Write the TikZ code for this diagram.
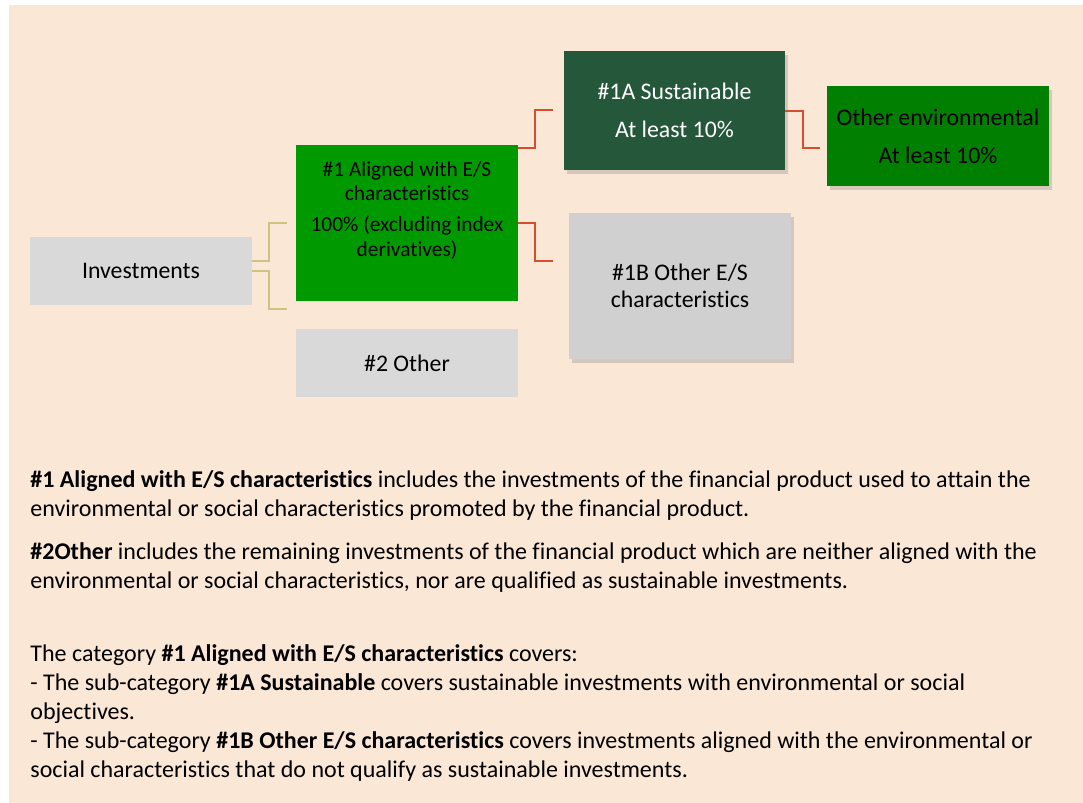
\documentclass[tikz,border=0pt]{standalone}
\usepackage{fontspec}
\setmainfont{Carlito}[Ligatures = NoCommon]
\usetikzlibrary{shadows}

\definecolor{bgbeige}{HTML}{FAE7D6}
\definecolor{boxgray}{HTML}{D9D9D9}
\definecolor{boxgrayB}{HTML}{CFD0CF}
\definecolor{esgreen}{HTML}{009A00}
\definecolor{sustgreen}{HTML}{25573A}
\definecolor{envgreen}{HTML}{007F00}
\definecolor{oliveline}{HTML}{CFC383}
\definecolor{redline}{HTML}{D2502D}

\tikzset{
	box/.style = {rectangle, inner sep = 0pt, minimum width = 111pt, align = center, font = \fontsize{11.9}{14.5}\selectfont},
	shadowed/.style = {drop shadow = {opacity = 0.3, shadow xshift = 1.5pt, shadow yshift = -2pt}},
	link/.style = {line width = 1pt},
	textpara/.style = {anchor = north west, inner sep = 0pt, align = left, font = \fontsize{12}{14.5}\selectfont},
}

\begin{document}
\begin{tikzpicture}[x = 0.5pt, y = -0.5pt]
	
	\useasboundingbox (0, 0) rectangle (1083, 803);
	\fill[bgbeige] (9, 5) rectangle (1083, 803);
	
	\node[box, fill = boxgray, minimum height = 34pt] (inv) at (141, 271) {Investments};
	
	\node[box, fill = esgreen, minimum height = 78pt, font = \fontsize{10.7}{12.3}\selectfont] (one) at (407, 223) {\#1 Aligned with E/S\\characteristics\\[3pt]100\% (excluding index\\derivatives)\\[2pt]\mbox{}};
	
	\node[box, fill = boxgray, minimum height = 34pt] (two) at (407, 363) {\#2 Other};
	
	\node[box, shadowed, fill = sustgreen, text = white, minimum width = 110.5pt, minimum height = 59.5pt] (oneA) at (674.5, 110.5) {\#1A Sustainable\\[4.5pt]At least 10\%};
	
	\node[box, shadowed, fill = boxgrayB, minimum height = 73pt, font = \fontsize{11.9}{13.5}\selectfont] (oneB) at (680, 286) {\#1B Other E/S\\characteristics};
	
	\node[box, shadowed, fill = envgreen, minimum height = 50pt] (env) at (938, 136) {Other environmental\\[4.5pt]At least 10\%};
	
	\coordinate (invup) at (287, 223);
	\coordinate (invdown) at (287, 309);
	\coordinate (oneAin) at (553, 110);
	\coordinate (oneBin) at (553, 261);
	\coordinate (envin) at (820, 148);
	
	\draw[link, oliveline] ([yshift = 5pt]inv.east) -- ++(17, 0) |- (invup);
	\draw[link, oliveline] (inv.east) -- ++(17, 0) |- (invdown);
	
	\draw[link, redline] ([yshift = -1.5pt]one.north east) -- ++(17, 0) |- (oneAin);
	\draw[link, redline] (one.east) -- ++(17, 0) |- (oneBin);
	\draw[link, redline] (oneA.east) -- ++(18, 0) |- (envin);
	
%	text below the chart
	\node[textpara] (parone) at (30, 470) {\textbf{\#1 Aligned with E/S characteristics} includes the investments of the financial product used to attain the\\environmental or social characteristics promoted by the financial product.};
	
	\node[textpara] (partwo) at (30, 542) {\textbf{\#2Other} includes the remaining investments of the financial product which are neither aligned with the\\environmental or social characteristics, nor are qualified as sustainable investments.};
	
	\node[textpara] (parthree) at (30, 644) {The category \textbf{\#1 Aligned with E/S characteristics} covers:\\- The sub-category \textbf{\#1A Sustainable} covers sustainable investments with environmental or social\\objectives.\\- The sub-category \textbf{\#1B Other E/S characteristics} covers investments aligned with the environmental or\\social characteristics that do not qualify as sustainable investments.};
\end{tikzpicture}
\end{document}
